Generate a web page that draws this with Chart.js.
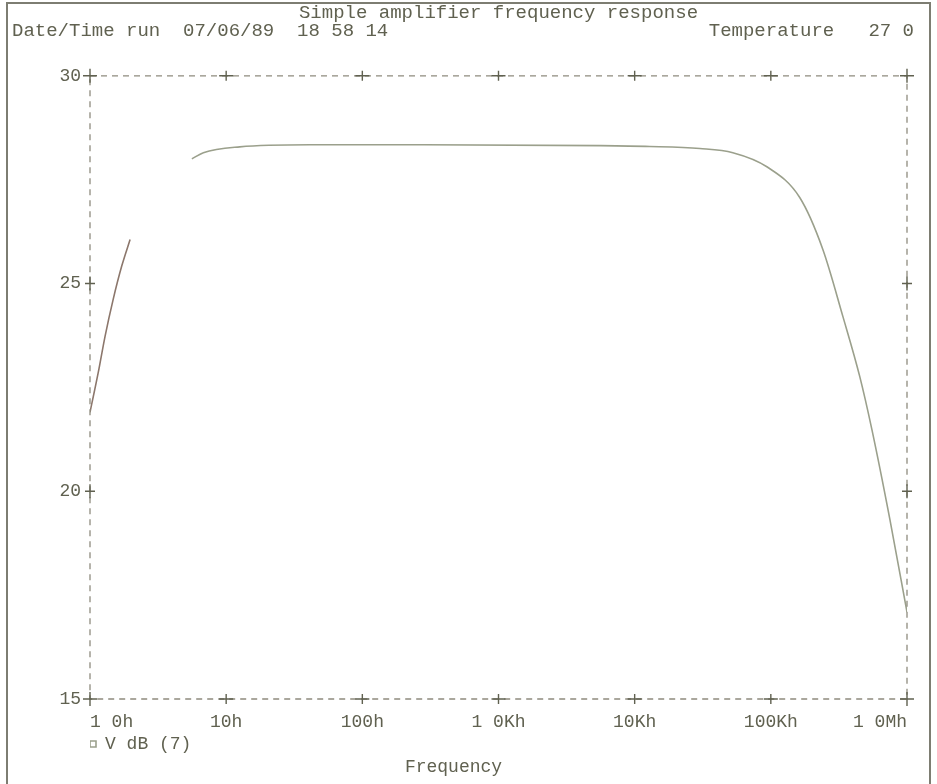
<!DOCTYPE html>
<html>
<head>
<meta charset="utf-8">
<script src="https://cdn.jsdelivr.net/npm/chart.js@4"></script>
<style>
  html, body { margin: 0; padding: 0; background: #fff; }
  #wrap { width: 937px; height: 784px; }
</style>
</head>
<body>
<div id="wrap"><canvas id="freqChart" width="937" height="784"></canvas></div>
<script>
// frequency (Hz) and gain (dB)
let freqs = [1, 1.15, 1.29, 1.48, 1.71, 1.97, 3, 5.6, 6.8, 12.6, 41, 265, 5550, 12900, 30100, 52600, 93500, 163000, 241000, 338000, 450000, 552000, 748000, 1000000]
let vdb   = [21.9, 22.86, 23.73, 24.62, 25.42, 26.06, null, 28.0, 28.15, 28.29, 28.34, 28.34, 28.32, 28.3, 28.25, 28.15, 27.81, 27.07, 25.82, 24.21, 22.76, 21.49, 19.33, 17.09]

let xTicks  = [1, 10, 100, 1000, 10000, 100000, 1000000]
let xLabels = ['1 0h', '10h', '100h', '1 0Kh', '10Kh', '100Kh', '1 0Mh']
let yTicks  = [15, 20, 25, 30]

let ink = '#606150'
let fontName = "'Liberation Mono', 'DejaVu Sans Mono', monospace"

// dashed plot frame with "+" marks at each tick
const framePlugin = {
  id: 'frame',
  beforeDraw(chart) {
    const c = chart.ctx
    c.save()
    c.fillStyle = '#fff'
    c.fillRect(0, 0, chart.width, chart.height)
    c.strokeStyle = '#7d7d72'
    c.lineWidth = 2
    c.strokeRect(7, 3, 923, 800)
    c.restore()
  },
  afterDatasetsDraw(chart) {
    const c = chart.ctx
    const a = chart.chartArea
    const xs = chart.scales.x, ys = chart.scales.y
    c.save()
    c.strokeStyle = '#8e8b7e'
    c.lineWidth = 1.3
    c.setLineDash([6, 5])
    c.strokeRect(a.left, a.top, a.right - a.left, a.bottom - a.top)
    c.setLineDash([])
    c.strokeStyle = ink
    c.lineWidth = 1.4
    c.beginPath()
    xTicks.forEach(v => {
      const px = xs.getPixelForValue(v)
      ;[a.top, a.bottom].forEach(py => {
        c.moveTo(px - 7, py); c.lineTo(px + 7, py)
        c.moveTo(px, py - 5); c.lineTo(px, py + 5)
      })
    })
    yTicks.forEach(v => {
      const py = ys.getPixelForValue(v)
      ;[a.left, a.right].forEach(px => {
        c.moveTo(px - 5, py); c.lineTo(px + 5, py)
        c.moveTo(px, py - 7); c.lineTo(px, py + 7)
      })
    })
    c.stroke()

    c.fillStyle = ink
    c.font = '19px ' + fontName
    c.textBaseline = 'middle'
    c.textAlign = 'left'
    c.fillText('Date/Time run  07/06/89  18 58 14', 12, 31)
    c.textAlign = 'right'
    c.fillText('Temperature   27 0', 914, 31)
    c.restore()
  }
}

let ctx = document.getElementById('freqChart').getContext('2d')
let myChart = new Chart(ctx, {
  type: 'line',
  data: {
    datasets: [{
      label: 'V dB (7)',
      data: freqs.map((f, i) => ({x: f, y: vdb[i]})),
      borderColor: '#9ba08c',
      backgroundColor: '#fff',
      borderWidth: 1.6,
      pointRadius: 0,
      pointStyle: 'rect',
      spanGaps: false,
      cubicInterpolationMode: 'monotone',
      segment: {
        borderColor: s => s.p0.parsed.x < 1.9 ? '#8c776c' : undefined
      }
    }]
  },
  options: {
    responsive: false,
    animation: false,
    layout: { padding: { left: 0, right: 30, top: 0, bottom: 0 } },
    scales: {
      x: {
        type: 'logarithmic',
        min: 1,
        max: 1000000,
        grid: { display: false, drawTicks: false },
        border: { display: false },
        afterBuildTicks: s => { s.ticks = xTicks.map(v => ({value: v})) },
        afterFit: s => { s.height = 36 },
        ticks: {
          autoSkip: false,
          maxRotation: 0,
          align: 'inner',
          padding: 3,
          color: ink,
          font: { family: fontName, size: 18, lineHeight: 2.2 },
          callback: (v, i) => xLabels[i]
        }
      },
      y: {
        min: 15,
        max: 30,
        grid: { display: false, drawTicks: false },
        border: { display: false },
        afterBuildTicks: s => { s.ticks = yTicks.map(v => ({value: v})) },
        afterFit: s => { s.width = 90 },
        ticks: {
          padding: 9,
          color: ink,
          font: { family: fontName, size: 18 }
        }
      }
    },
    plugins: {
      subtitle: {
        display: true,
        text: 'Simple amplifier frequency response',
        position: 'top',
        fullSize: false,
        color: ink,
        font: { family: fontName, size: 19, weight: 'normal' },
        padding: { top: 2, bottom: 51 }
      },
      title: {
        display: true,
        text: 'Frequency',
        position: 'bottom',
        color: ink,
        font: { family: fontName, size: 18, weight: 'normal', lineHeight: 1 },
        padding: { top: -5, bottom: 8 }
      },
      legend: {
        display: true,
        position: 'bottom',
        align: 'start',
        fullSize: false,
        labels: {
          usePointStyle: true,
          boxWidth: 6,
          boxHeight: 6,
          padding: 0,
          color: ink,
          font: { family: fontName, size: 18, lineHeight: 1 }
        }
      },
      tooltip: { enabled: false }
    }
  },
  plugins: [framePlugin]
})
</script>
</body>
</html>
